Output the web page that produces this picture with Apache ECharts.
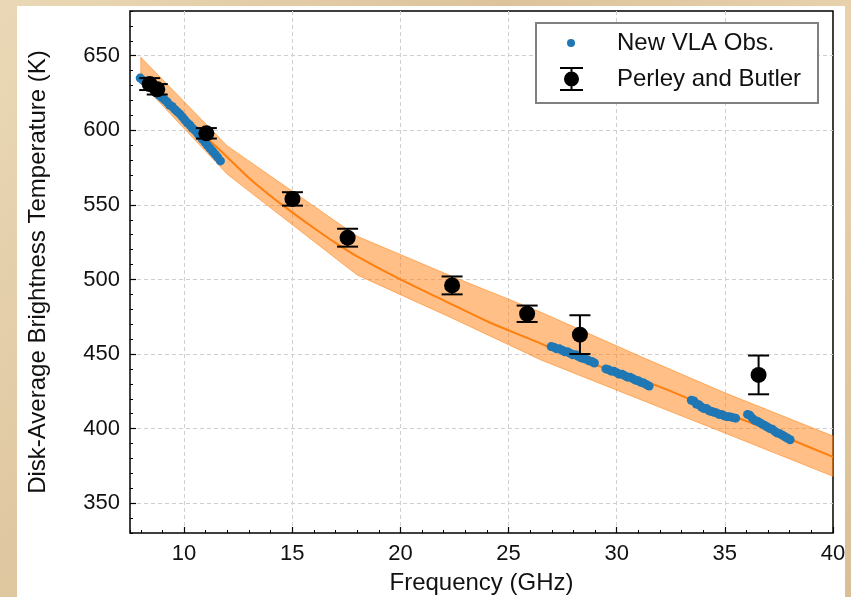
<!DOCTYPE html>
<html>
<head>
<meta charset="utf-8">
<script src="https://cdn.jsdelivr.net/npm/echarts@6/dist/echarts.min.js"></script>
<style>
html,body{margin:0;padding:0;background:#e2c9a0;}
#c{width:851px;height:597px;}
</style>
</head>
<body>
<div id="c"></div>
<script>
// ---------- DATA ----------
// New VLA observations (frequency GHz, disk-average Tb K)
const vlaFreq = [
  7.97,8.1,8.22,8.35,8.48,8.6,8.72,8.85,8.98,9.1,9.22,9.33,9.45,9.57,9.68,9.8,9.92,10.03,10.15,10.27,10.38,10.5,10.62,10.73,10.85,10.97,11.08,11.2,11.32,11.44,11.55,11.68,
  26.97,27.1,27.22,27.35,27.48,27.6,27.72,27.85,27.97,28.1,28.22,28.35,28.47,28.6,28.72,28.85,28.97,
  29.5,29.62,29.75,29.87,30.0,30.12,30.25,30.37,30.5,30.62,30.75,30.87,31.0,31.12,31.25,31.37,31.5,
  33.45,33.57,33.68,33.8,33.92,34.03,34.15,34.27,34.38,34.5,34.62,34.73,34.85,34.97,35.1,35.22,35.35,35.5,
  36.05,36.15,36.27,36.38,36.5,36.62,36.73,36.85,36.97,37.08,37.2,37.32,37.43,37.55,37.67,37.78,37.9,38.02
];
const vlaTemp = [
  635,633.5,632,630,628.5,627,625,623.5,622,620.5,619,617,616,614,612.5,611,609,607,605,603.5,601.5,600,598,596,594,592,590,588,586,584,582,579.5,
  455,454.5,453.5,453.5,452.5,451.5,451.5,450.5,449.5,449.5,448.5,447.5,447,446.5,445.5,445,444,
  440,439.5,438.5,438.5,437.5,436.5,436.5,435.5,434.5,434.5,433.5,432.5,432,431,430.5,429.5,428.5,
  419,418.5,416.5,416,414.5,413.5,413.5,412,411.5,411,410.5,409.5,409.5,408.5,408,408,407.5,407,
  409.5,409,407,405.5,405,404,403,402,401,400,399.5,398,397,396.5,395.5,394.5,393.5,392.5
];
// Perley and Butler points
const pbFreq = [8.41, 8.76, 11.03, 15.01, 17.56, 22.39, 25.86, 28.3, 36.56];
const pbTemp = [631, 627.5, 598, 554, 528, 496, 477, 463, 436];
const pbErr  = [4, 3.5, 3.5, 4.5, 6, 6, 5.5, 13, 13];
// Model curve
const modelFreq = [8, 9, 10, 11, 12, 13, 14, 15, 16, 17, 18, 20, 22, 24, 26, 28, 30, 32, 34, 36, 38, 40];
const modelTemp = [638, 623, 609, 595.5, 582, 568, 556, 545, 534.5, 524.5, 515.5, 500, 486, 472, 460, 448, 438, 428, 416, 405, 393, 381];
// Model uncertainty band
const bandFreq  = [8, 12, 18, 22.4, 26.5, 31, 35, 40];
const bandUpper = [649, 589.5, 529, 502, 478, 449, 424, 395];
const bandLower = [632, 570.5, 503, 474, 446, 420, 397, 368];

// ---------- CHART ----------
const FONT = '"Liberation Sans", Arial, Helvetica, sans-serif';
const chart = echarts.init(document.getElementById('c'), null, {renderer: 'canvas', width: 851, height: 597});

const ERRBAR_ICON = 'path://M0,0H23V2H0Z M10.5,2H12.5V4.5H10.5Z M10.5,19.5H12.5V22H10.5Z M0,22H23V24H0Z M4,12A7.5,7.5,0,1,1,19,12A7.5,7.5,0,1,1,4,12Z';

const GRID = {left: 130, right: 18, top: 11, bottom: 64};
const gridW = 851 - GRID.left - GRID.right;
const gridH = 597 - GRID.top - GRID.bottom;

const gridLine = {show: true, showMinLine: false, showMaxLine: false,
  lineStyle: {color: '#cfcfcf', type: [4, 3], width: 1}};

const option = {
  animation: false,
  backgroundColor: {
    type: 'linear', x: 0, y: 0, x2: 1, y2: 1,
    colorStops: [
      {offset: 0, color: '#ead8b6'},
      {offset: 0.4, color: '#dcc39b'},
      {offset: 0.7, color: '#e8d3ad'},
      {offset: 1, color: '#d9bf95'}
    ]
  },
  graphic: [
    {type: 'rect', z: -10, silent: true, shape: {x: 17, y: 6, width: 828, height: 591}, style: {fill: '#ffffff'}},
    {type: 'rect', z: 3, silent: true, shape: {x: 536, y: 23, width: 282, height: 80}, style: {fill: '#ffffff', stroke: '#808080', lineWidth: 2}}
  ],
  grid: Object.assign({show: true, borderColor: '#000', borderWidth: 1.5, backgroundColor: '#ffffff',
    containLabel: false, outerBoundsMode: 'none'}, GRID),
  legend: [
    {
      data: [{name: 'New VLA Obs.', icon: 'circle'}],
      left: 567, top: 31, padding: 0, itemWidth: 8, itemHeight: 8, selectedMode: false, z: 5,
      textStyle: {fontSize: 24, fontFamily: FONT, color: '#111', padding: [0, 0, 0, 37]}
    },
    {
      data: [{name: 'Perley and Butler', icon: ERRBAR_ICON}],
      left: 560, top: 67, padding: 0, itemWidth: 23, itemHeight: 24, selectedMode: false, z: 5,
      textStyle: {fontSize: 24, fontFamily: FONT, color: '#111', padding: [0, 0, 0, 29]}
    }
  ],
  xAxis: [
    {
      type: 'value', min: 7.5, max: 40, splitNumber: 6, position: 'bottom',
      axisLine: {show: false},
      axisTick: {show: true, inside: true, length: 6, lineStyle: {color: '#000', width: 1.2}},
      splitLine: gridLine,
      axisLabel: {showMinLabel: false, fontSize: 22, fontFamily: FONT, color: '#111', margin: 10},
      name: 'Frequency (GHz)', nameLocation: 'middle', nameGap: 38,
      nameTextStyle: {fontSize: 24, fontFamily: FONT, color: '#111'}
    },
    {
      // minor ticks: top axis shifted down onto the bottom edge
      type: 'value', min: 7.5, max: 40, splitNumber: 33, position: 'top', offset: -gridH,
      axisLine: {show: false},
      axisTick: {show: true, inside: false, length: 3, lineStyle: {color: '#000', width: 1}},
      splitLine: {show: false},
      axisLabel: {show: false}
    }
  ],
  yAxis: [
    {
      type: 'value', min: 330, max: 680, splitNumber: 7, position: 'left',
      axisLine: {show: false},
      axisTick: {show: true, inside: true, length: 6, lineStyle: {color: '#000', width: 1.2}},
      splitLine: gridLine,
      axisLabel: {showMinLabel: false, showMaxLabel: false, fontSize: 22, fontFamily: FONT, color: '#111', margin: 10},
      name: 'Disk-Average Brightness Temperature (K)', nameLocation: 'middle', nameGap: 80,
      nameTextStyle: {fontSize: 24, fontFamily: FONT, color: '#111'}
    },
    {
      // minor ticks: right axis shifted left onto the left edge
      type: 'value', min: 330, max: 680, interval: 10, position: 'right', offset: -gridW,
      axisLine: {show: false},
      axisTick: {show: true, inside: false, length: 3, lineStyle: {color: '#000', width: 1}},
      splitLine: {show: false},
      axisLabel: {show: false}
    }
  ],
  series: [
    {
      type: 'custom', name: 'model band', xAxisIndex: 0, yAxisIndex: 0, z: 1, silent: true,
      data: bandFreq.map((f, i) => [f, bandUpper[i], bandLower[i]]),
      encode: {x: 0, y: [1, 2]},
      renderItem: function (params, api) {
        if (params.dataIndex !== 0) return {type: 'group', children: []};
        const pts = [];
        for (let i = 0; i < bandFreq.length; i++) pts.push(api.coord([bandFreq[i], bandUpper[i]]));
        for (let i = bandFreq.length - 1; i >= 0; i--) pts.push(api.coord([bandFreq[i], bandLower[i]]));
        return {type: 'polygon', shape: {points: pts},
          style: {fill: 'rgba(255,127,14,0.5)', stroke: 'rgba(255,127,14,0.55)', lineWidth: 1}};
      }
    },
    {
      type: 'line', name: 'model', xAxisIndex: 0, yAxisIndex: 0, z: 2,
      data: modelFreq.map((f, i) => [f, modelTemp[i]]),
      smooth: 0.3, showSymbol: false, symbol: 'none',
      lineStyle: {color: '#ff7f0e', width: 2}, silent: true
    },
    {
      type: 'scatter', name: 'New VLA Obs.', xAxisIndex: 0, yAxisIndex: 0, z: 3,
      data: vlaFreq.map((f, i) => [f, vlaTemp[i]]),
      symbol: 'circle', symbolSize: 9,
      itemStyle: {color: '#1f77b4', opacity: 1}
    },
    {
      type: 'custom', name: 'PB errors', xAxisIndex: 0, yAxisIndex: 0, z: 4, silent: true,
      data: pbFreq.map((f, i) => [f, pbTemp[i] - pbErr[i], pbTemp[i] + pbErr[i]]),
      encode: {x: 0, y: [1, 2]},
      renderItem: function (params, api) {
        const x = api.value(0);
        const top = api.coord([x, api.value(2)]);
        const bot = api.coord([x, api.value(1)]);
        const hw = 10.5;
        const st = {stroke: '#000', lineWidth: 2};
        return {type: 'group', children: [
          {type: 'line', shape: {x1: top[0], y1: top[1], x2: bot[0], y2: bot[1]}, style: st},
          {type: 'line', shape: {x1: top[0] - hw, y1: top[1], x2: top[0] + hw, y2: top[1]}, style: st},
          {type: 'line', shape: {x1: bot[0] - hw, y1: bot[1], x2: bot[0] + hw, y2: bot[1]}, style: st}
        ]};
      }
    },
    {
      type: 'scatter', name: 'Perley and Butler', xAxisIndex: 0, yAxisIndex: 0, z: 5,
      data: pbFreq.map((f, i) => [f, pbTemp[i]]),
      symbol: 'circle', symbolSize: 16,
      itemStyle: {color: '#000', opacity: 1}
    }
  ]
};
chart.setOption(option);
</script>
</body>
</html>
